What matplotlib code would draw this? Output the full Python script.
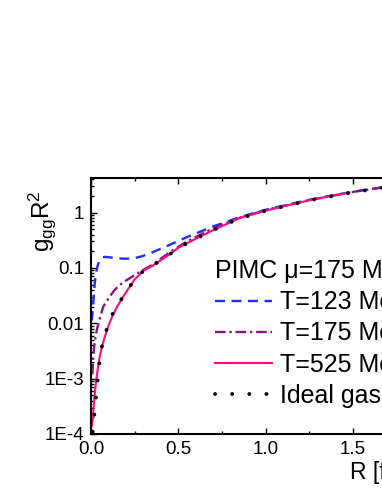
import matplotlib
matplotlib.use('Agg')
import matplotlib.pyplot as plt
from matplotlib.ticker import MultipleLocator, LogLocator, FixedLocator, FixedFormatter

plt.rcParams['font.family'] = ['Liberation Sans', 'DejaVu Sans']

# DATA
#===========================================================================
blue_r = [0.003, 0.008, 0.012, 0.017, 0.022, 0.03, 0.04, 0.05, 0.065, 0.08, 0.1, 0.13, 0.16,
          0.2, 0.25, 0.3, 0.35, 0.45, 0.55, 0.7, 0.85, 1.0, 1.25, 1.5, 1.75, 2.0]
blue_v = [0.011, 0.014, 0.02, 0.035, 0.055, 0.085, 0.115, 0.14, 0.155, 0.158, 0.156, 0.152, 0.148,
          0.146, 0.15, 0.165, 0.19, 0.26, 0.36, 0.56, 0.82, 1.12, 1.7, 2.37, 3.1, 4.0]

purple_r = [0.008, 0.012, 0.018, 0.025, 0.035, 0.05, 0.07, 0.1, 0.13, 0.16, 0.2, 0.25, 0.3,
            0.35, 0.45, 0.55, 0.7, 0.85, 1.0, 1.25, 1.5, 1.75, 2.0]
purple_v = [1.2e-3, 2.2e-3, 3.8e-3, 5.5e-3, 8.0e-3, 0.012, 0.02, 0.028, 0.038, 0.048, 0.059, 0.074, 0.092,
            0.113, 0.19, 0.3, 0.52, 0.8, 1.1, 1.68, 2.35, 3.1, 4.0]

pink_r = [0.005, 0.01, 0.015, 0.02, 0.03, 0.04, 0.05, 0.065, 0.08, 0.1, 0.12, 0.15, 0.2,
          0.25, 0.3, 0.35, 0.45, 0.5, 0.55, 0.7, 0.85, 1.0, 1.25, 1.48]
pink_v = [1.4e-4, 1.9e-4, 3.0e-4, 4.8e-4, 9.4e-4, 1.6e-3, 2.5e-3, 4.0e-3, 5.8e-3, 9.0e-3, 0.013, 0.02, 0.036,
          0.062, 0.088, 0.108, 0.175, 0.23, 0.28, 0.48, 0.79, 1.08, 1.66, 2.3]

ideal_r = [0.01, 0.02, 0.03, 0.04, 0.05, 0.06, 0.08, 0.1, 0.12, 0.15, 0.2, 0.25, 0.3,
           0.35, 0.45, 0.55, 0.7, 0.85, 1.0, 1.25, 1.5, 1.75, 2.0]
ideal_v = [1.1e-4, 2.4e-4, 5.0e-4, 1.1e-3, 2.2e-3, 3.5e-3, 6.3e-3, 9.5e-3, 0.014, 0.021, 0.036, 0.062, 0.088,
           0.108, 0.175, 0.28, 0.48, 0.78, 1.07, 1.65, 2.32, 3.05, 3.9]

labels = ['T=123 MeV', 'T=175 MeV', 'T=525 MeV', 'Ideal gas']
legend_title = 'PIMC \u03bc=175 MeV'

xticks = [0.0, 0.5, 1.0, 1.5, 2.0]
yticks = [1e-4, 1e-3, 1e-2, 1e-1, 1]
ytick_labels = ['1E-4', '1E-3', '0.01', '0.1', '1']

# FIGURE
#===========================================================================
W, H = 382, 494
fig = plt.figure(figsize=(W / 100, H / 100), dpi=100)
# axes run past the right edge of the picture, as in the reference
ax = fig.add_axes([91 / W, 1 - 434 / H, 349 / W, 256 / H])

ax.plot(blue_r, blue_v, color='#1f2dff', lw=1.7, dashes=(4.2, 2.8), label=labels[0])
ax.plot(purple_r, purple_v, color='#80188a', lw=1.7, dashes=(4.5, 1.6, 1.0, 1.6), label=labels[1])
ax.plot(pink_r, pink_v, color='#ff0a80', lw=1.5, label=labels[2])
ax.plot(ideal_r, ideal_v, color='black', lw=2.8, linestyle=(0, (0.01, 4.4)),
        dash_capstyle='round', label=labels[3])

ax.set_yscale('log')
ax.set_xlim(0, 2.0)
ax.set_ylim(1e-4, 4.2)

ax.xaxis.set_major_locator(FixedLocator(xticks))
ax.xaxis.set_minor_locator(MultipleLocator(0.25))
ax.set_xticklabels(['%.1f' % v for v in xticks])
ax.yaxis.set_major_locator(FixedLocator(yticks))
ax.yaxis.set_major_formatter(FixedFormatter(ytick_labels))
ax.yaxis.set_minor_locator(LogLocator(base=10, subs=range(2, 10), numticks=20))

ax.tick_params(which='both', direction='in', top=True, right=True, labelsize=13.5, width=1.0)
ax.tick_params(which='major', length=4.5, pad=5)
ax.tick_params(which='minor', length=2.5)
for s in ax.spines.values():
    s.set_linewidth(1.5)

# axis labels
fig.text(42 / W, 1 - 221 / H, r'$\mathregular{g_{gg}R^2}$', rotation=90,
         ha='center', va='center', fontsize=17.5)
fig.text(350 / W, 1 - 472 / H, 'R [fm]', ha='left', va='center', fontsize=16.5)

# legend
leg = ax.legend(loc='upper left', bbox_to_anchor=(215 / W, 1 - 259 / H),
                bbox_transform=fig.transFigure, frameon=False, fontsize=18,
                title=legend_title, title_fontsize=18, alignment='left',
                handlelength=2.3, handletextpad=0.28, labelspacing=0.29,
                borderpad=0, borderaxespad=0)

fig.savefig('out.png', dpi=100)
